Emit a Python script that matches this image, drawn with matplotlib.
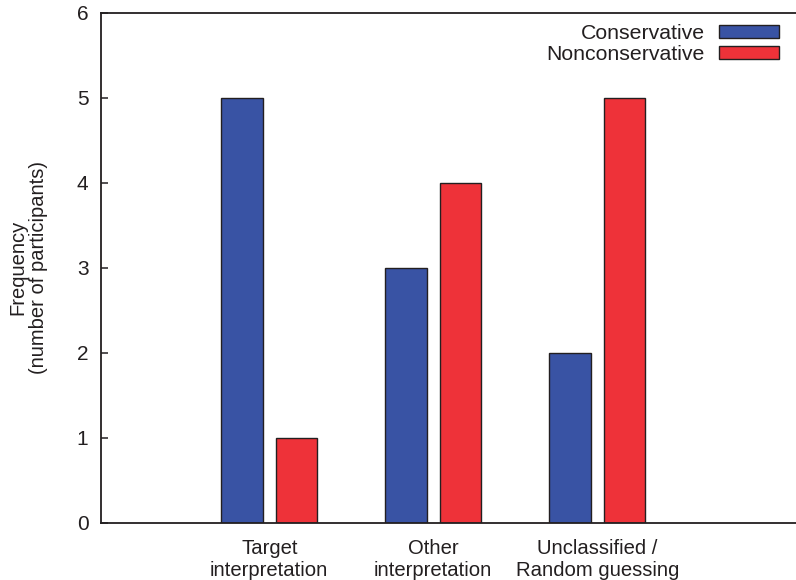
import numpy as np
import matplotlib
matplotlib.use("Agg")
import matplotlib.pyplot as plt
from matplotlib.patches import Patch

plt.rcParams["font.family"] = ["Liberation Sans", "DejaVu Sans"]

categories = ["Target\ninterpretation", "Other\ninterpretation", "Unclassified /\nRandom guessing"]
conservative = [5, 3, 2]
nonconservative = [1, 4, 5]
series_names = ["Conservative", "Nonconservative"]
y_ticks = [0, 1, 2, 3, 4, 5, 6]

BLUE = "#3953a4"
RED = "#ee3239"
EDGE = "#231f20"

fig = plt.figure(figsize=(7.96, 5.8), dpi=100)
ax = fig.add_axes([101 / 796, 1 - 522.5 / 580, 1 - 101 / 796 + 0.01, (522.5 - 13) / 580])

x = np.arange(len(categories))
w = 0.253
off = 0.167
ax.bar(x - off, conservative, w, color=BLUE, edgecolor=EDGE, linewidth=1.0, label=series_names[0])
ax.bar(x + off, nonconservative, w, color=RED, edgecolor=EDGE, linewidth=1.0, label=series_names[1])

ax.set_xlim(-1.026, 3.26)
ax.set_ylim(0, 6)
ax.set_yticks(y_ticks)
ax.set_xticks(x)
ax.set_xticklabels(categories, fontsize=14.6, color=EDGE, linespacing=1.2)
ax.tick_params(axis="x", length=0, pad=12)
ax.tick_params(axis="y", direction="in", length=5, width=1.1, labelsize=15, pad=9,
               colors=EDGE)

for s in ["left", "top", "bottom"]:
    ax.spines[s].set_linewidth(1.3)
    ax.spines[s].set_color(EDGE)
ax.spines["right"].set_visible(False)

ax.set_ylabel("Frequency\n(number of participants)", fontsize=14.5, color=EDGE,
              linespacing=1.1, labelpad=21)

handles = [Patch(facecolor=BLUE, edgecolor=EDGE, linewidth=1.0),
           Patch(facecolor=RED, edgecolor=EDGE, linewidth=1.0)]
fig.legend(handles, series_names, loc="upper right", bbox_to_anchor=(779 / 796, 1 - 24 / 580),
           frameon=False, markerfirst=False, fontsize=15.3, borderpad=0, borderaxespad=0,
           handlelength=2.82, handleheight=0.52, handletextpad=0.66, labelspacing=0.1,
           labelcolor=EDGE)

fig.savefig("out.png", dpi=100)
